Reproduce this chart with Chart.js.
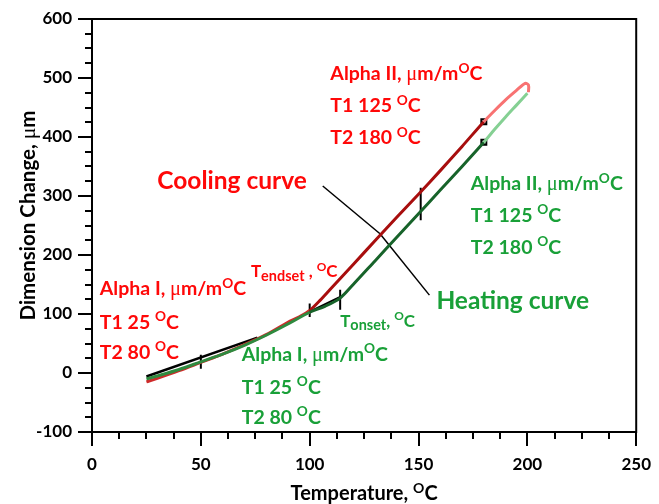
<!DOCTYPE html>
<html>
<head>
<meta charset="utf-8">
<script src="https://cdn.jsdelivr.net/npm/chart.js@4"></script>
<style>
  html, body { margin: 0; padding: 0; background: #fff; }
  #wrap { width: 659px; height: 504px; }
</style>
</head>
<body>
<div id="wrap"><canvas id="myChart" width="659" height="504"></canvas></div>
<script>
// heating curve (temperature, dimension change)
const heatingTemp = [25, 30, 40, 50, 60, 70, 80, 90, 100, 107, 114, 120, 130, 140, 150, 160, 170, 180, 185, 190, 195, 200];
const heatingDim  = [-10, -5, 6, 19, 32, 47, 64, 83, 103, 113, 127, 150, 190, 230, 270, 310, 350, 391, 413, 434, 454, 474];

// cooling curve
const coolingTemp = [25, 30, 40, 50, 60, 70, 80, 90, 95, 100, 105, 110, 120, 130, 140, 150, 160, 170, 180, 185, 190, 195, 199, 200.5, 200.5];
const coolingDim  = [-15, -9, 4, 18, 32, 48, 65, 86, 95, 106, 124, 144, 184, 224, 264, 303, 343, 384, 426, 445, 463, 479, 491, 488, 476];

// construction lines
const alphaITemp = [25, 76];
const alphaIDim  = [-6, 60];
const onsetTemp  = [100, 114];
const onsetDim   = [104, 129];
const markerTemp = [180, 180];
const markerDim  = [426, 391];
// vertical tick marks: temperature, low, high
const tickMarkTemp = [50, 100, 114, 151];
const tickMarkLow  = [7, 95, 107, 259];
const tickMarkHigh = [31, 118, 141, 314];
// leader lines for the curve labels
const coolLeaderTemp = [106, 132.3];
const coolLeaderDim  = [317, 236];
const heatLeaderTemp = [132.3, 155];
const heatLeaderDim  = [236, 132];

const xTicks = [0, 250, 50, 12.5];     // min, max, major step, minor step
const yTicks = [-100, 600, 100, 25];

const RED = '#ff0808';
const GREEN = '#19a038';

// text labels: x, y (data units, text centre), colour, size, pieces
const notes = [
  [109.5, 508, RED, 19.5, [['Alpha II, '], ['μ', 'g'], ['m/m'], ['O', 'sup'], ['C']]],
  [109.5, 454, RED, 19.5, [['T1 125 '], ['O', 'sup'], ['C']]],
  [109.5, 400, RED, 19.5, [['T2 180 '], ['O', 'sup'], ['C']]],
  [30, 327, RED, 24.5, [['Cooling curve']]],
  [174, 322, GREEN, 19.5, [['Alpha II, '], ['μ', 'g'], ['m/m'], ['O', 'sup'], ['C']]],
  [174, 268, GREEN, 19.5, [['T1 125 '], ['O', 'sup'], ['C']]],
  [174, 214, GREEN, 19.5, [['T2 180 '], ['O', 'sup'], ['C']]],
  [158.2, 124, GREEN, 24.5, [['Heating curve']]],
  [3.6, 144, RED, 19.5, [['Alpha I, '], ['μ', 'g'], ['m/m'], ['O', 'sup'], ['C']]],
  [3.6, 87, RED, 19.5, [['T1 25 '], ['O', 'sup'], ['C']]],
  [3.6, 36, RED, 19.5, [['T2 80 '], ['O', 'sup'], ['C']]],
  [73, 173, RED, 17, [['T'], ['endset', 'sub'], [' , '], ['O', 'sup'], ['C']]],
  [114, 89, GREEN, 17, [['T'], ['onset', 'sub'], [', '], ['O', 'sup'], ['C']]],
  [68.8, 33, GREEN, 19.5, [['Alpha I, '], ['μ', 'g'], ['m/m'], ['O', 'sup'], ['C']]],
  [68.8, -23, GREEN, 19.5, [['T1 25 '], ['O', 'sup'], ['C']]],
  [68.8, -74, GREEN, 19.5, [['T2 80 '], ['O', 'sup'], ['C']]]
];
const xTitle = [['Temperature, '], ['O', 'sup'], ['C']];
const yTitle = [['Dimension Change, '], ['μ', 'g'], ['m']];

function zip(xs, ys) {
  return xs.map((v, i) => ({x: v, y: ys[i]}));
}

function pieceFont(p, size) {
  if (p[1] === 'sup') return 'bold ' + (size * 0.7) + 'px Lato';
  if (p[1] === 'sub') return 'bold ' + (size * 0.85) + 'px Lato';
  if (p[1] === 'g') return (size * 1.05) + 'px "Liberation Serif"';
  return 'bold ' + size + 'px Lato';
}

function richWidth(ctx, parts, size) {
  let w = 0;
  for (const p of parts) { ctx.font = pieceFont(p, size); w += ctx.measureText(p[0]).width; }
  return w;
}

// draws text pieces from left x, with y the cap centre
function drawRich(ctx, parts, x, y, size, color) {
  ctx.fillStyle = color;
  ctx.textBaseline = 'alphabetic';
  ctx.textAlign = 'left';
  const base = y + size * 0.36;
  let cx = x;
  for (const p of parts) {
    ctx.font = pieceFont(p, size);
    let dy = 0;
    if (p[1] === 'sup') dy = -size * 0.38;
    if (p[1] === 'sub') dy = size * 0.22;
    ctx.fillText(p[0], cx, base + dy);
    cx += ctx.measureText(p[0]).width;
  }
}

const decorations = {
  id: 'decorations',
  afterDraw(chart) {
    const ctx = chart.ctx;
    const a = chart.chartArea;
    const x = chart.scales.x, y = chart.scales.y;
    ctx.save();
    ctx.strokeStyle = '#000';
    ctx.lineWidth = 2;
    ctx.strokeRect(a.left, a.top, a.right - a.left, a.bottom - a.top);
    // minor ticks
    ctx.beginPath();
    for (let v = xTicks[0]; v <= xTicks[1]; v += xTicks[3]) {
      if (v % xTicks[2] === 0) continue;
      const px = Math.round(x.getPixelForValue(v));
      ctx.moveTo(px, a.bottom); ctx.lineTo(px, a.bottom + 7);
    }
    for (let v = yTicks[0]; v <= yTicks[1]; v += yTicks[3]) {
      if (v % yTicks[2] === 0) continue;
      const py = Math.round(y.getPixelForValue(v));
      ctx.moveTo(a.left - 7, py); ctx.lineTo(a.left, py);
    }
    ctx.stroke();

    for (const n of notes) {
      drawRich(ctx, n[4], x.getPixelForValue(n[0]), y.getPixelForValue(n[1]), n[3], n[2]);
    }
    // axis titles
    const tw = richWidth(ctx, xTitle, 20);
    drawRich(ctx, xTitle, (a.left + a.right) / 2 - tw / 2, a.bottom + 61, 20, '#000');
    ctx.translate(28, (a.top + a.bottom) / 2 - 10);
    ctx.rotate(-Math.PI / 2);
    const yw = richWidth(ctx, yTitle, 20.5);
    drawRich(ctx, yTitle, -yw / 2, 0, 20.5, '#000');
    ctx.restore();
  }
};

function tickMarkData() {
  const d = [];
  tickMarkTemp.forEach((t, i) => {
    d.push({x: t, y: tickMarkLow[i]}, {x: t, y: tickMarkHigh[i]}, {x: t, y: null});
  });
  return d;
}

const lineOpts = {showLine: true, pointRadius: 0, fill: false, tension: 0};

new Chart(document.getElementById('myChart').getContext('2d'), {
  type: 'scatter',
  data: {
    datasets: [
      Object.assign({}, lineOpts, {
        label: 'Heating',
        data: zip(heatingTemp, heatingDim),
        borderWidth: 3,
        tension: 0.3,
        borderColor: '#1d6e30',
        segment: {
          borderColor: c => c.p0.parsed.x >= 180 ? '#85d093' : (c.p0.parsed.x >= 100 ? '#17632a' : '#2f8a3f')
        }
      }),
      Object.assign({}, lineOpts, {
        label: 'Cooling',
        data: zip(coolingTemp, coolingDim),
        borderWidth: 3,
        tension: 0.3,
        borderColor: '#b01010',
        segment: {
          borderColor: c => c.p0.parsed.x >= 180 ? '#f87272' : (c.p0.parsed.x >= 100 ? '#a80e0e' : '#cf2a2a')
        }
      }),
      Object.assign({}, lineOpts, {data: zip(alphaITemp, alphaIDim), borderColor: '#000', borderWidth: 2.5}),
      Object.assign({}, lineOpts, {data: zip(onsetTemp, onsetDim), borderColor: '#000', borderWidth: 2}),
      Object.assign({}, lineOpts, {data: tickMarkData(), borderColor: '#000', borderWidth: 2, spanGaps: false}),
      Object.assign({}, lineOpts, {data: zip(coolLeaderTemp, coolLeaderDim), borderColor: '#000', borderWidth: 1.5}),
      Object.assign({}, lineOpts, {data: zip(heatLeaderTemp, heatLeaderDim), borderColor: '#000', borderWidth: 1.5}),
      {
        data: zip(markerTemp, markerDim),
        showLine: false,
        pointStyle: 'rect',
        pointRadius: 3.5,
        backgroundColor: '#fff',
        borderColor: '#000',
        borderWidth: 2
      }
    ]
  },
  options: {
    responsive: false,
    animation: false,
    layout: {padding: {top: 19, right: 17, left: 0, bottom: 0}},
    plugins: {legend: {display: false}, tooltip: {enabled: false}},
    scales: {
      x: {
        type: 'linear',
        min: xTicks[0], max: xTicks[1],
        afterFit: s => { s.height = 72; },
        border: {display: true, color: '#000', width: 2},
        grid: {display: true, drawOnChartArea: false, drawTicks: true, tickLength: 14, color: '#000', lineWidth: 2},
        ticks: {stepSize: xTicks[2], padding: 8, color: '#000', font: {family: 'Lato', weight: 'bold', size: 17}, maxRotation: 0}
      },
      y: {
        type: 'linear',
        min: yTicks[0], max: yTicks[1],
        afterFit: s => { s.width = 92; },
        border: {display: true, color: '#000', width: 2},
        grid: {display: true, drawOnChartArea: false, drawTicks: true, tickLength: 14, color: '#000', lineWidth: 2},
        ticks: {stepSize: yTicks[2], padding: 6, color: '#000', font: {family: 'Lato', weight: 'bold', size: 17}}
      }
    }
  },
  plugins: [decorations]
});
</script>
</body>
</html>
